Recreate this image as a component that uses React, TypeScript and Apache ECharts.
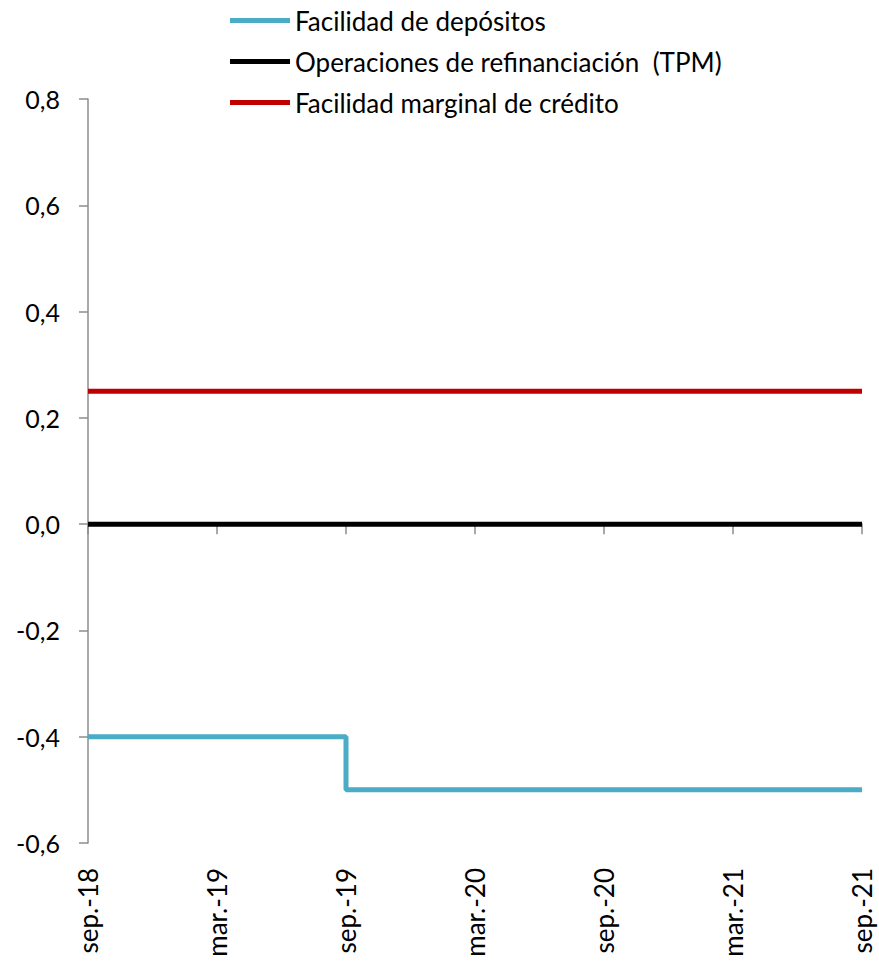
import React, { useEffect, useRef } from "react";
import * as echarts from "echarts";

const categories = [
  "sep.-18", "oct.-18", "nov.-18", "dic.-18", "ene.-19", "feb.-19",
  "mar.-19", "abr.-19", "may.-19", "jun.-19", "jul.-19", "ago.-19",
  "sep.-19", "oct.-19", "nov.-19", "dic.-19", "ene.-20", "feb.-20",
  "mar.-20", "abr.-20", "may.-20", "jun.-20", "jul.-20", "ago.-20",
  "sep.-20", "oct.-20", "nov.-20", "dic.-20", "ene.-21", "feb.-21",
  "mar.-21", "abr.-21", "may.-21", "jun.-21", "jul.-21", "ago.-21",
  "sep.-21",
];

const facilidadDepositos = [
  -0.4, -0.4, -0.4, -0.4, -0.4, -0.4, -0.4, -0.4, -0.4, -0.4, -0.4, -0.4,
  -0.5, -0.5, -0.5, -0.5, -0.5, -0.5, -0.5, -0.5, -0.5, -0.5, -0.5, -0.5,
  -0.5, -0.5, -0.5, -0.5, -0.5, -0.5, -0.5, -0.5, -0.5, -0.5, -0.5, -0.5,
  -0.5,
];

const operacionesRefinanciacion = [
  0, 0, 0, 0, 0, 0, 0, 0, 0, 0, 0, 0,
  0, 0, 0, 0, 0, 0, 0, 0, 0, 0, 0, 0,
  0, 0, 0, 0, 0, 0, 0, 0, 0, 0, 0, 0,
  0,
];

const facilidadMarginal = [
  0.25, 0.25, 0.25, 0.25, 0.25, 0.25, 0.25, 0.25, 0.25, 0.25, 0.25, 0.25,
  0.25, 0.25, 0.25, 0.25, 0.25, 0.25, 0.25, 0.25, 0.25, 0.25, 0.25, 0.25,
  0.25, 0.25, 0.25, 0.25, 0.25, 0.25, 0.25, 0.25, 0.25, 0.25, 0.25, 0.25,
  0.25,
];

const seriesNames = [
  "Facilidad de depósitos",
  "Operaciones de refinanciación  (TPM)",
  "Facilidad marginal de crédito",
];

const FONT = "Lato, 'Open Sans', sans-serif";

export default function App() {
  const ref = useRef<HTMLDivElement>(null);

  useEffect(() => {
    if (!ref.current) return;
    const chart = echarts.init(ref.current, undefined, { renderer: "svg" });
    chart.setOption({
      animation: false,
      backgroundColor: "#ffffff",
      textStyle: { fontFamily: FONT },
      legend: {
        orient: "vertical",
        left: 225,
        top: 0,
        itemWidth: 60,
        itemHeight: 5,
        itemGap: 10,
        icon: "rect",
        data: seriesNames,
        textStyle: { fontSize: 26, color: "#000", fontFamily: FONT, lineHeight: 31 },
      },
      grid: { left: 88, right: 17, top: 99, bottom: 125 },
      xAxis: [
        {
          type: "category",
          data: categories,
          boundaryGap: false,
          axisLine: { show: true, onZero: true, lineStyle: { color: "#8c8c8c", width: 1.5 } },
          axisTick: { show: true, interval: 5, length: 10, lineStyle: { color: "#8c8c8c", width: 1.5 } },
          axisLabel: { show: false },
          splitLine: { show: false },
        },
        {
          type: "category",
          data: categories,
          boundaryGap: false,
          position: "bottom",
          axisLine: { show: false, onZero: false },
          axisTick: { show: false },
          axisLabel: {
            show: true,
            interval: 5,
            rotate: 90,
            margin: 25,
            fontSize: 26,
            color: "#000",
            fontFamily: FONT,
          },
          splitLine: { show: false },
        },
      ],
      yAxis: {
        type: "value",
        min: -0.6,
        max: 0.8,
        interval: 0.2,
        axisLine: { show: true, lineStyle: { color: "#8c8c8c", width: 1.5 } },
        axisTick: { show: true, length: 9, lineStyle: { color: "#8c8c8c", width: 1.5 } },
        splitLine: { show: false },
        axisLabel: {
          margin: 28,
          fontSize: 25,
          color: "#000",
          fontFamily: FONT,
          formatter: (v: number) => v.toFixed(1).replace(".", ","),
        },
      },
      series: [
        {
          name: seriesNames[0],
          type: "line",
          xAxisIndex: 0,
          data: facilidadDepositos,
          step: "end",
          showSymbol: false,
          symbol: "none",
          lineStyle: { color: "#4BACC6", width: 5 },
          itemStyle: { color: "#4BACC6" },
          z: 3,
        },
        {
          name: seriesNames[1],
          type: "line",
          xAxisIndex: 0,
          data: operacionesRefinanciacion,
          showSymbol: false,
          symbol: "none",
          lineStyle: { color: "#000000", width: 5 },
          itemStyle: { color: "#000000" },
          z: 4,
        },
        {
          name: seriesNames[2],
          type: "line",
          xAxisIndex: 0,
          data: facilidadMarginal,
          showSymbol: false,
          symbol: "none",
          lineStyle: { color: "#C00000", width: 5 },
          itemStyle: { color: "#C00000" },
          z: 5,
        },
      ],
    });
    return () => chart.dispose();
  }, []);

  return (
    <div
      ref={ref}
      style={{ position: "fixed", left: 0, top: 0, width: 879, height: 968, background: "#fff" }}
    />
  );
}
